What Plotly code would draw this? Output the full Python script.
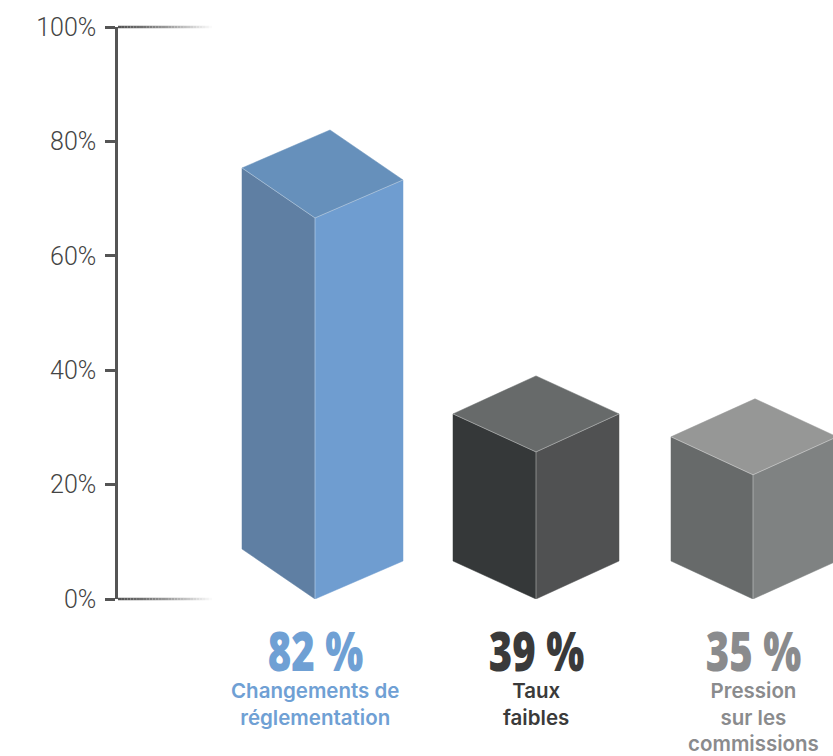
import plotly.graph_objects as go

# Survey results
categories = ["Changements de<br>réglementation", "Taux<br>faibles", "Pression<br>sur les<br>commissions"]
values = [82, 39, 35]
value_labels = ["82 %", "39 %", "35 %"]
tick_values = [0, 20, 40, 60, 80, 100]
tick_labels = ["0%", "20%", "40%", "60%", "80%", "100%"]

# Page geometry
W, H = 833, 756
M_L, M_R, M_T, M_B = 118, 0, 27, 157
plot_w = W - M_L - M_R
plot_h = H - M_T - M_B
unit = plot_h / 100.0  # pixels per percentage point

# Isometric box shape (pixels): front edge x, half widths, rise of the side corners
boxes = [
    dict(cx=315, wl=73, wr=88, dl=50, dr=38),
    dict(cx=536, wl=83, wr=83, dl=38, dr=38),
    dict(cx=753, wl=82, wr=84, dl=38, dr=38),
]
# (left face, right face, top face)
face_colors = [
    ("#5f7fa3", "#6f9dd0", "#6690bb"),
    ("#353839", "#505152", "#676a6a"),
    ("#676a6a", "#7f8282", "#969796"),
]
label_colors = ["#6fa0d4", "#3a3a3a", "#8a8b8d"]

fig = go.Figure()


def poly(xs, ys, color):
    fig.add_trace(go.Scatter(
        x=xs + [xs[0]], y=ys + [ys[0]], mode="lines", fill="toself",
        fillcolor=color, line=dict(color=color, width=0.5),
        hoverinfo="skip", showlegend=False,
    ))


for v, b, (c_left, c_right, c_top) in zip(values, boxes, face_colors):
    cx, wl, wr = b["cx"], b["wl"], b["wr"]
    dl, dr = b["dl"] / unit, b["dr"] / unit
    # the back corner of the top face sits at the value
    ft = v - dl - dr
    fb = (cx, 0.0)
    lb = (cx - wl, dl)
    rb = (cx + wr, dr)
    fT = (cx, ft)
    lT = (cx - wl, ft + dl)
    rT = (cx + wr, ft + dr)
    bT = (cx - wl + wr, v)
    poly([fb[0], lb[0], lT[0], fT[0]], [fb[1], lb[1], lT[1], fT[1]], c_left)
    poly([fb[0], rb[0], rT[0], fT[0]], [fb[1], rb[1], rT[1], fT[1]], c_right)
    poly([fT[0], lT[0], bT[0], rT[0]], [fT[1], lT[1], bT[1], rT[1]], c_top)
    # light edges where the faces meet
    fig.add_trace(go.Scatter(
        x=[lT[0], fT[0], rT[0], None, fT[0], fb[0]],
        y=[lT[1], fT[1], rT[1], None, fT[1], fb[1]],
        mode="lines", line=dict(color="rgba(255,255,255,0.35)", width=1),
        hoverinfo="skip", showlegend=False,
    ))

# Fading guide lines at 0% and 100%
shapes = []
n_seg = 30
x0_px, x1_px = M_L, 212
for yv in (0, 100):
    for i in range(n_seg):
        a = x0_px + (x1_px - x0_px) * i / n_seg
        b2 = x0_px + (x1_px - x0_px) * (i + 1) / n_seg
        t = i / (n_seg - 1)
        g = int(85 + (250 - 85) * t ** 1.3)
        shapes.append(dict(
            type="line", xref="paper", yref="paper",
            x0=(a - M_L) / plot_w, x1=(b2 - M_L) / plot_w,
            y0=yv / 100, y1=yv / 100,
            line=dict(color=f"rgb({g},{g},{g})", width=2.5),
            layer="above",
        ))

# Value and category labels under each box
annotations = []
for cat, lab, b, col in zip(categories, value_labels, boxes, label_colors):
    annotations.append(dict(
        x=b["cx"], xref="x", y=(599 - 649) / plot_h, yref="paper",
        text=lab, showarrow=False, xanchor="center", yanchor="middle",
        font=dict(family="Noto Sans", size=55, color=col, weight=900),
    ))
    annotations.append(dict(
        x=b["cx"], xref="x", y=(599 - 676) / plot_h, yref="paper",
        text=cat, showarrow=False, xanchor="center", yanchor="top",
        font=dict(family="Inter", size=20.5, color=col, weight=600),
    ))

fig.update_layout(
    width=W, height=H,
    margin=dict(l=M_L, r=M_R, t=M_T, b=M_B, pad=0),
    paper_bgcolor="white", plot_bgcolor="white",
    showlegend=False,
    shapes=shapes,
    annotations=annotations,
    xaxis=dict(range=[M_L, W], visible=False, fixedrange=True),
    yaxis=dict(
        range=[0, 100], tickvals=tick_values, ticktext=tick_labels,
        showgrid=False, zeroline=False,
        showline=True, linecolor="#555555", linewidth=2.5,
        ticks="outside", ticklen=10, tickwidth=2.5, tickcolor="#555555",
        tickfont=dict(family="Roboto", size=25, color="#444444", weight=300),
        ticklabelstandoff=4,
        fixedrange=True,
    ),
)

# Narrow the big percentage figures into a condensed display face
condense_js = """
document.querySelectorAll('.annotation-text').forEach(function (t) {
  if (/^\\d+ %$/.test(t.textContent)) {
    t.style.transformBox = 'fill-box';
    t.style.transformOrigin = '50% 50%';
    t.style.transform = 'scaleX(0.73)';
  }
});
"""

fig.write_html("out.html", post_script=condense_js)
